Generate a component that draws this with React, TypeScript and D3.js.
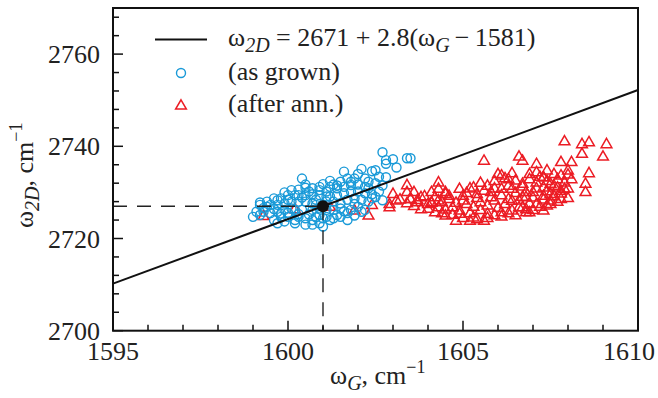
import * as d3 from "d3";

// omega_G, omega_2D (cm^-1)
const asGrown: [number, number][] = [
  [1602.7, 2738.7], [1602.8, 2737.0], [1603.0, 2737.2], [1602.8, 2736.2], [1603.1, 2735.4],
  [1603.4, 2737.4], [1603.5, 2737.4], [1601.6, 2734.5], [1602.1, 2735.1], [1602.4, 2734.6],
  [1602.6, 2733.4], [1602.8, 2733.3], [1601.9, 2733.0], [1602.2, 2733.0], [1602.3, 2732.3],
  [1602.5, 2732.0], [1601.7, 2733.0], [1601.5, 2732.3], [1601.3, 2731.7], [1601.2, 2731.2],
  [1600.5, 2731.7], [1600.5, 2731.0], [1600.7, 2730.9], [1600.9, 2730.5], [1601.1, 2730.2],
  [1601.4, 2730.9], [1601.6, 2731.2], [1601.8, 2731.6], [1602.0, 2731.7], [1602.2, 2731.2],
  [1602.3, 2730.9], [1601.6, 2729.8], [1601.8, 2730.2], [1602.0, 2730.2], [1602.2, 2729.8],
  [1602.4, 2729.6], [1602.6, 2730.2], [1601.4, 2729.4], [1601.2, 2729.1], [1601.1, 2729.1],
  [1600.9, 2729.4], [1600.7, 2729.6], [1600.5, 2729.4], [1600.3, 2729.4], [1600.2, 2729.4],
  [1600.0, 2729.4], [1599.8, 2728.7], [1599.6, 2728.7], [1599.4, 2728.0], [1599.2, 2727.3],
  [1599.4, 2726.9], [1599.7, 2727.3], [1599.9, 2727.6], [1600.1, 2728.0], [1600.3, 2728.0],
  [1600.5, 2728.0], [1600.7, 2727.6], [1600.8, 2728.4], [1601.3, 2728.0], [1601.5, 2727.6],
  [1601.7, 2728.4], [1601.9, 2728.7], [1602.1, 2728.4], [1602.3, 2728.0], [1602.4, 2728.7],
  [1602.0, 2726.9], [1601.8, 2726.2], [1601.5, 2726.5], [1601.3, 2726.2], [1601.1, 2726.2],
  [1600.9, 2726.5], [1600.7, 2726.2], [1600.4, 2726.2], [1600.2, 2726.2], [1600.1, 2726.5],
  [1599.9, 2726.2], [1599.7, 2725.8], [1599.5, 2725.5], [1599.3, 2725.8], [1599.1, 2725.8],
  [1599.0, 2724.7], [1599.2, 2725.1], [1599.6, 2724.0], [1599.8, 2724.7], [1600.0, 2724.7],
  [1600.2, 2724.0], [1600.3, 2724.7], [1600.5, 2724.4], [1600.7, 2724.0], [1600.9, 2723.3],
  [1601.1, 2724.7], [1601.4, 2725.1], [1601.7, 2725.5], [1601.7, 2724.0], [1601.5, 2724.7],
  [1601.2, 2724.0], [1601.0, 2724.4], [1600.9, 2725.1], [1600.2, 2723.3], [1600.5, 2723.0],
  [1600.7, 2723.0], [1601.0, 2722.6], [1599.9, 2723.7], [1599.7, 2723.3], [1601.1, 2728.0],
  [1601.0, 2727.3], [1600.8, 2727.3], [1602.1, 2725.8], [1602.2, 2726.2], [1599.2, 2727.8],
  [1599.5, 2727.3], [1599.7, 2728.3], [1600.4, 2733.0], [1601.0, 2731.8], [1602.5, 2734.8],
  [1599.3, 2726.6], [1599.6, 2726.4], [1599.8, 2725.4], [1600.0, 2725.6], [1600.3, 2725.3],
  [1600.6, 2725.2], [1600.8, 2724.6], [1601.3, 2724.4], [1601.6, 2725.9], [1601.9, 2725.0],
  [1600.0, 2728.4], [1600.4, 2728.9], [1600.6, 2730.2], [1600.9, 2731.2], [1601.4, 2731.5],
  [1601.2, 2732.5], [1601.8, 2732.3], [1602.0, 2734.0], [1602.7, 2731.5], [1602.5, 2729.0],
  [1602.7, 2728.3], [1601.9, 2727.5], [1600.3, 2730.6], [1599.9, 2730.0], [1600.1, 2730.5],
];

const afterAnn: [number, number][] = [
  [1599.3, 2725.0], [1600.2, 2726.5], [1601.2, 2727.0], [1601.9, 2726.2], [1602.3, 2725.1],
  [1602.4, 2727.4], [1602.9, 2727.6], [1603.0, 2729.8], [1603.1, 2728.4], [1603.4, 2731.7],
  [1603.4, 2730.2], [1603.6, 2730.2], [1603.5, 2728.7], [1603.7, 2728.0], [1602.9, 2726.9],
  [1607.9, 2741.2], [1608.4, 2740.6], [1608.6, 2741.0], [1609.1, 2740.6], [1608.4, 2738.5],
  [1609.0, 2737.9], [1605.6, 2737.0], [1606.6, 2737.9], [1606.7, 2737.0], [1607.1, 2736.3],
  [1607.8, 2736.7], [1608.1, 2736.7], [1607.4, 2734.9], [1608.0, 2734.9], [1608.0, 2734.0],
  [1608.6, 2734.3], [1608.5, 2732.0], [1608.5, 2730.2], [1603.8, 2729.1], [1604.1, 2728.0],
  [1604.3, 2732.3], [1604.3, 2730.9], [1604.5, 2729.8], [1604.9, 2730.9], [1605.3, 2731.2],
  [1606.0, 2734.1], [1606.3, 2733.0], [1606.5, 2732.7], [1606.9, 2734.1], [1607.1, 2734.5],
  [1607.3, 2733.4], [1607.6, 2734.1], [1607.8, 2733.8], [1607.5, 2732.0], [1607.8, 2730.5],
  [1607.9, 2730.9], [1605.7, 2731.6], [1606.1, 2733.8], [1606.7, 2732.0], [1604.1, 2730.2],
  [1604.5, 2730.2], [1604.3, 2728.4], [1604.6, 2728.7], [1605.0, 2729.4], [1605.4, 2729.8],
  [1605.8, 2730.2], [1606.1, 2730.9], [1606.4, 2730.9], [1606.8, 2730.2], [1604.0, 2727.6],
  [1604.3, 2726.9], [1604.7, 2726.9], [1605.1, 2727.6], [1605.5, 2728.0], [1605.9, 2728.4],
  [1606.3, 2728.7], [1606.6, 2728.4], [1604.5, 2725.1], [1604.9, 2725.5], [1605.3, 2724.7],
  [1605.7, 2725.5], [1606.1, 2725.8], [1606.4, 2726.2], [1606.8, 2726.5], [1604.8, 2724.0],
  [1605.2, 2724.0], [1605.6, 2724.0], [1604.2, 2725.8], [1603.8, 2726.5], [1603.5, 2728.7],
  [1607.3, 2733.4], [1607.1, 2732.3], [1607.7, 2731.2], [1607.3, 2731.2], [1607.0, 2730.2],
  [1607.3, 2729.4], [1607.5, 2728.4], [1606.8, 2729.1], [1607.1, 2727.6], [1606.7, 2726.9],
  [1607.4, 2727.3], [1606.9, 2725.8], [1607.3, 2726.2], [1607.8, 2728.7], [1607.5, 2729.8],
  [1603.2, 2728.6], [1603.4, 2727.8], [1603.6, 2727.2], [1603.7, 2728.5], [1603.9, 2729.3],
  [1604.0, 2726.6], [1604.1, 2727.9], [1604.2, 2729.1], [1604.4, 2725.6], [1604.4, 2728.0],
  [1604.5, 2726.4], [1604.6, 2729.4], [1604.7, 2725.3], [1604.8, 2727.9], [1604.9, 2726.2],
  [1605.0, 2724.6], [1605.0, 2728.4], [1605.1, 2730.0], [1605.2, 2725.6], [1605.3, 2727.0],
  [1605.4, 2724.3], [1605.4, 2728.9], [1605.5, 2726.3], [1605.6, 2730.5], [1605.7, 2724.6],
  [1605.7, 2727.3], [1605.8, 2729.1], [1605.9, 2725.2], [1605.9, 2731.0], [1606.0, 2726.8],
  [1606.1, 2724.9], [1606.1, 2729.5], [1606.2, 2727.6], [1606.3, 2725.6], [1606.3, 2731.6],
  [1606.4, 2728.3], [1606.5, 2725.2], [1606.5, 2730.0], [1606.6, 2726.9], [1606.7, 2729.2],
  [1606.7, 2731.4], [1606.8, 2725.8], [1606.9, 2727.7], [1606.9, 2733.0], [1607.0, 2729.0],
  [1607.0, 2726.3], [1607.1, 2731.0], [1607.2, 2727.0], [1607.2, 2733.5], [1607.3, 2728.6],
  [1607.4, 2730.4], [1607.4, 2732.6], [1607.5, 2727.6], [1607.6, 2729.3], [1607.6, 2731.6],
  [1607.7, 2733.0], [1607.7, 2728.1], [1607.8, 2729.9], [1607.9, 2732.3], [1608.0, 2728.9],
  [1608.0, 2731.0], [1608.1, 2733.0], [1605.2, 2731.0], [1605.5, 2732.2], [1605.9, 2732.6],
  [1606.2, 2733.2], [1606.4, 2734.3],
];

const xTicks = [1595, 1600, 1605, 1610];
const yTicks = [2700, 2720, 2740, 2760];
const fitOffset = 2671;
const fitSlope = 2.8;
const fitOrigin = 1581;
const marked: [number, number] = [1601, 2727];

const W = 658;
const H = 398;
const font = "'Liberation Serif', 'Times New Roman', serif";
const blue = "#1a9ad8";
const red = "#ec1c24";

export default function App() {
  const x = d3.scaleLinear().domain([1595, 1610]).range([113, 638]);
  const y = d3.scaleLinear().domain([2700, 2770]).range([330.7, 8]);
  const [x0, x1] = x.domain();
  const fit = (g: number) => fitOffset + fitSlope * (g - fitOrigin);
  const line = d3.line<number>().x((g) => x(g)).y((g) => y(fit(g)));
  const tri = d3.symbol(d3.symbolTriangle, 50)();
  const minorX = d3.range(1595, 1611, 1);
  const minorY = d3.range(2700, 2770, 4);
  const txt = { fontFamily: font, fill: "#222", fontSize: 26 };

  return (
    <svg width={W} height={H} style={{ position: "absolute", left: 0, top: 0, background: "#fff", fontFamily: font }}>
      {/* red first, blue on top */}
      <g fill="none" stroke={red} strokeWidth={1.5}>
        {afterAnn.map((d, i) => (
          <path key={i} d={tri!} transform={`translate(${x(d[0])},${y(d[1]) + 1})`} />
        ))}
      </g>
      <g fill="none" stroke={blue} strokeWidth={1.4}>
        {asGrown.map((d, i) => (
          <circle key={i} cx={x(d[0])} cy={y(d[1])} r={4.5} />
        ))}
      </g>

      {/* fit line */}
      <path d={line([x0, x1])!} fill="none" stroke="#111" strokeWidth={2} />

      {/* dashed guides to marked point */}
      <g stroke="#222" strokeWidth={1.4} strokeDasharray="14 10">
        <line x1={x(x0)} x2={x(marked[0])} y1={y(marked[1])} y2={y(marked[1])} />
        <line x1={x(marked[0])} x2={x(marked[0])} y1={y(marked[1])} y2={y(2700)} />
      </g>
      <circle cx={x(marked[0])} cy={y(marked[1])} r={6} fill="#111" />

      {/* frame */}
      <rect x={113} y={8} width={525} height={322.7} fill="none" stroke="#111" strokeWidth={2} />

      {/* ticks */}
      <g stroke="#111" strokeWidth={1.5}>
        {minorX.map((v) => (
          <line key={v} x1={x(v)} x2={x(v)} y1={y(2700)} y2={y(2700) - (v % 5 === 0 ? 10 : 6)} />
        ))}
        {minorY.map((v) => (
          <line key={v} x1={x(1595)} x2={x(1595) + (v % 20 === 0 ? 10 : 6)} y1={y(v)} y2={y(v)} />
        ))}
      </g>
      <g style={txt}>
        {xTicks.map((v, i) => (
          <text key={v} x={x(v) - (i === xTicks.length - 1 ? 9 : 0)} y={360} textAnchor="middle">{v}</text>
        ))}
        {yTicks.map((v) => (
          <text key={v} x={100} y={y(v) + 9} textAnchor="end">{v}</text>
        ))}
      </g>

      {/* axis titles */}
      <text x={330} y={384} style={txt}>
        ω<tspan fontStyle="italic" fontSize={20} dy={6}>G</tspan>
        <tspan dy={-6}>, cm</tspan>
        <tspan fontSize={18} dy={-11}>−1</tspan>
      </text>
      <text transform="translate(33,228) rotate(-90)" style={txt}>
        ω<tspan fontStyle="italic" fontSize={20} dy={6}>2D</tspan>
        <tspan dy={-6}>, cm</tspan>
        <tspan fontSize={18} dy={-11}>−1</tspan>
      </text>

      {/* legend */}
      <line x1={155} x2={207} y1={39.5} y2={39.5} stroke="#111" strokeWidth={2} />
      <text x={228} y={46} style={txt} xmlSpace="preserve">
        ω<tspan fontStyle="italic" fontSize={20} dy={6}>2D</tspan>
        <tspan dy={-6}>{" = 2671 + 2.8(ω"}</tspan>
        <tspan fontStyle="italic" fontSize={20} dy={6}>G</tspan>
        <tspan dy={-6}>{"\u2009−\u20091581)"}</tspan>
      </text>
      <circle cx={181} cy={73} r={4.5} fill="none" stroke={blue} strokeWidth={1.4} />
      <text x={228} y={80} style={txt}>(as grown)</text>
      <path d={tri!} transform="translate(181,106)" fill="none" stroke={red} strokeWidth={1.5} />
      <text x={228} y={112} style={txt}>(after ann.)</text>
    </svg>
  );
}
